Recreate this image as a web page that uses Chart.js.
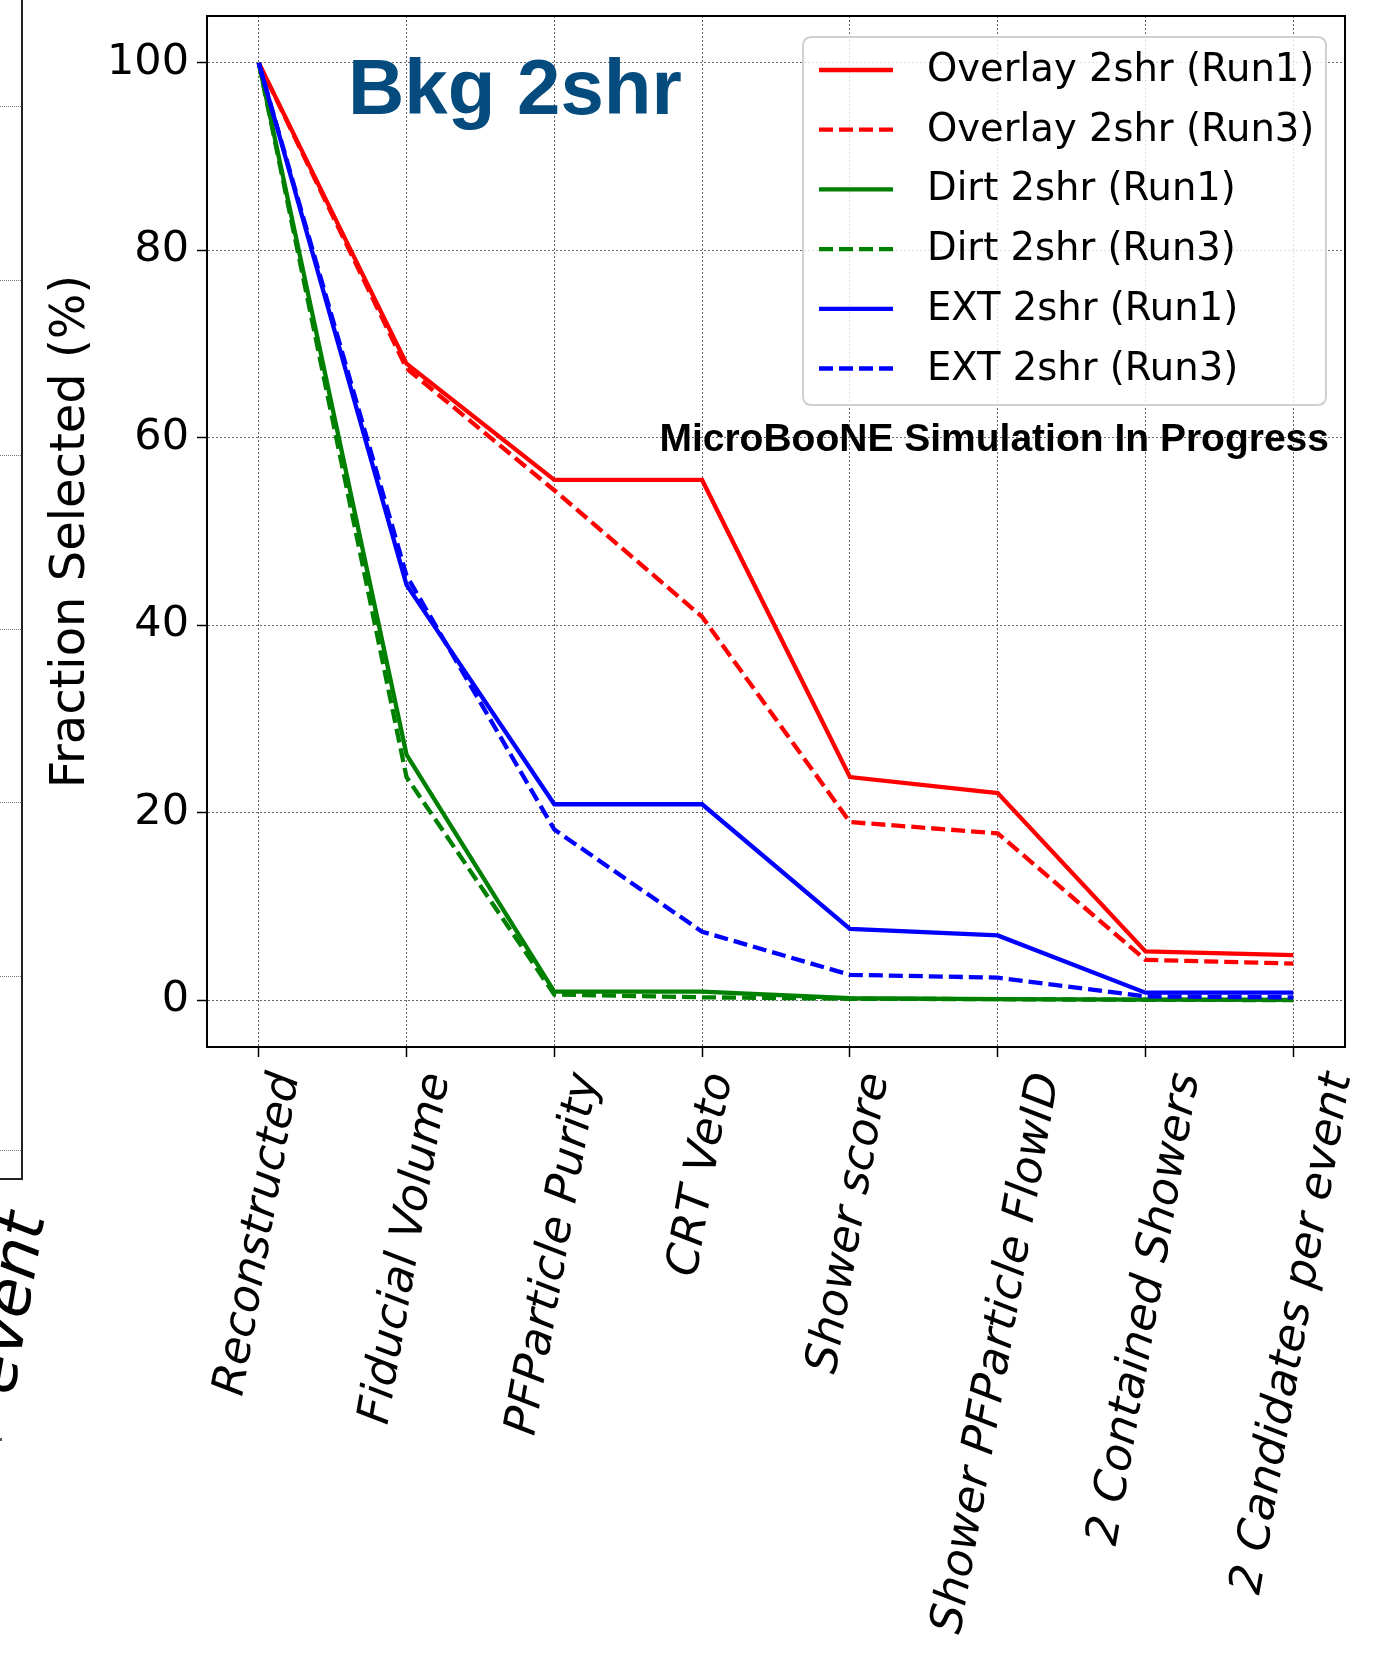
<!DOCTYPE html>
<html>
<head>
<meta charset="utf-8">
<script src="https://cdn.jsdelivr.net/npm/chart.js@4.4.1/dist/chart.umd.min.js"></script>
<style>
html, body { margin: 0; padding: 0; background: #ffffff; }
#wrap { position: relative; width: 1384px; height: 1658px; overflow: hidden; background: #fff; }
#chart { position: absolute; left: 0; top: 0; }
#prevFrame { position: absolute; left: -4px; top: -4px; width: 25px; height: 1182px;
  border-right: 2px solid #222; border-bottom: 2px solid #222; }
.pg { position: absolute; left: 0; width: 21px; height: 0; border-top: 1px dotted #777; }
#prevLabel { position: absolute; left: -40px; top: 1387px; transform-origin: 0 0; transform: rotate(-80deg);
  font-family: 'DejaVu Sans', sans-serif; font-style: italic; font-size: 64px; line-height: 64px; white-space: nowrap; color: #000; }
#prevDot { position: absolute; left: 0; top: 1438px; width: 2px; height: 3px; background: #555; }
</style>
</head>
<body>
<div id="wrap">
  <div id="prevFrame"></div>
  <div class="pg" style="top:106px"></div>
  <div class="pg" style="top:280px"></div>
  <div class="pg" style="top:455px"></div>
  <div class="pg" style="top:629px"></div>
  <div class="pg" style="top:802px"></div>
  <div class="pg" style="top:976px"></div>
  <div class="pg" style="top:1150px"></div>
  <div id="prevLabel">event</div>
  <div id="prevDot"></div>
  <canvas id="chart" width="1384" height="1658"></canvas>
</div>
<script>
// ---------------- data ----------------
const categories = ["Reconstructed", "Fiducial Volume", "PFParticle Purity", "CRT Veto",
  "Shower score", "Shower PFParticle FlowID", "2 Contained Showers", "2 Candidates per event"];

const overlayRun1 = [100, 67.9, 55.5, 55.5, 23.8, 22.1, 5.2, 4.8];
const overlayRun3 = [100, 67.4, 54.4, 40.9, 19.0, 17.8, 4.3, 3.9];
const dirtRun1    = [100, 26.2, 0.9, 0.9, 0.2, 0.1, 0.05, 0.02];
const dirtRun3    = [100, 23.8, 0.6, 0.3, 0.15, 0.1, 0.03, 0.01];
const extRun1     = [100, 44.3, 20.9, 20.9, 7.6, 6.9, 0.8, 0.8];
const extRun3     = [100, 45.3, 18.2, 7.3, 2.7, 2.4, 0.4, 0.3];

const seriesLabels = ["Overlay 2shr (Run1)", "Overlay 2shr (Run3)", "Dirt 2shr (Run1)",
  "Dirt 2shr (Run3)", "EXT 2shr (Run1)", "EXT 2shr (Run3)"];
const seriesValues = [overlayRun1, overlayRun3, dirtRun1, dirtRun3, extRun1, extRun3];

const yTickValues = [0, 20, 40, 60, 80, 100];
const yTitle = "Fraction Selected (%)";
const titleText = "Bkg 2shr";
const stampText = "MicroBooNE Simulation In Progress";

// ---------------- styles ----------------
const FONT = "'DejaVu Sans', sans-serif";
const seriesColors = ["#ff0000", "#ff0000", "#008000", "#008000", "#0000ff", "#0000ff"];
const DASH = [14, 6];
const seriesDash = [[], DASH, [], DASH, [], DASH];
const LW = 4.3;

const datasets = seriesValues.map((vals, k) => ({
  label: seriesLabels[k],
  data: vals.map((v, i) => ({ x: i, y: v })),
  borderColor: seriesColors[k],
  backgroundColor: seriesColors[k],
  borderDash: seriesDash[k],
  borderWidth: LW,
  pointRadius: 0,
  tension: 0,
  fill: false,
  order: seriesValues.length - k
}));

// shift rotated x labels so that their bounding box is centred on the tick (matplotlib style)
const labelCenterPlugin = {
  id: 'labelCenter',
  beforeDraw(chart) {
    const sc = chart.scales.x;
    const items = sc.getLabelItems(chart.chartArea);
    const ctx = chart.ctx;
    const rot = sc.labelRotation * Math.PI / 180;
    items.forEach(it => {
      if (it._shifted) return;
      ctx.save();
      ctx.font = it.font.string;
      const w = ctx.measureText(String(it.label)).width;
      ctx.restore();
      it.options.translation[0] += w * Math.cos(rot) / 2;
      it._shifted = true;
    });
  }
};

const framePlugin = {
  id: 'frameAndTexts',
  afterDraw(chart) {
    const ctx = chart.ctx;
    const a = chart.chartArea;
    ctx.save();
    ctx.setLineDash([]);
    ctx.strokeStyle = '#000';
    ctx.lineWidth = 2;
    ctx.strokeRect(a.left, a.top, a.right - a.left, a.bottom - a.top);

    // title inside axes
    ctx.fillStyle = '#054b7d';
    ctx.font = "bold 78px 'Liberation Sans', Arial, sans-serif";
    ctx.textAlign = 'left';
    ctx.textBaseline = 'alphabetic';
    ctx.fillText(titleText, a.left + 141, a.top + 98);

    // stamp
    ctx.fillStyle = '#000';
    ctx.font = "bold 39px 'Liberation Sans', Arial, sans-serif";
    ctx.textAlign = 'right';
    ctx.fillText(stampText, a.right - 16, a.top + 435);

    // legend
    const bx = a.right - 542, by = a.top + 21, bw = 523, bh = 368, r = 9;
    ctx.beginPath();
    ctx.moveTo(bx + r, by);
    ctx.lineTo(bx + bw - r, by);
    ctx.quadraticCurveTo(bx + bw, by, bx + bw, by + r);
    ctx.lineTo(bx + bw, by + bh - r);
    ctx.quadraticCurveTo(bx + bw, by + bh, bx + bw - r, by + bh);
    ctx.lineTo(bx + r, by + bh);
    ctx.quadraticCurveTo(bx, by + bh, bx, by + bh - r);
    ctx.lineTo(bx, by + r);
    ctx.quadraticCurveTo(bx, by, bx + r, by);
    ctx.closePath();
    ctx.fillStyle = 'rgba(255,255,255,0.8)';
    ctx.fill();
    ctx.strokeStyle = '#d0d0d0';
    ctx.lineWidth = 2;
    ctx.stroke();

    ctx.font = "38.5px " + FONT;
    ctx.textAlign = 'left';
    ctx.textBaseline = 'middle';
    chart.data.datasets.forEach((ds, k) => {
      const y = by + 33 + k * 59.7;
      ctx.beginPath();
      ctx.setLineDash(ds.borderDash || []);
      ctx.strokeStyle = ds.borderColor;
      ctx.lineWidth = LW;
      ctx.moveTo(bx + 16, y);
      ctx.lineTo(bx + 90, y);
      ctx.stroke();
      ctx.setLineDash([]);
      ctx.fillStyle = '#000';
      ctx.fillText(ds.label, bx + 124, y + 1);
    });
    ctx.restore();
  }
};

const gridOpts = {
  color: '#666',
  lineWidth: 1,
  tickLength: 10,
  tickColor: '#000',
  tickWidth: 1.5,
  tickBorderDash: [],
  drawTicks: true
};
const borderOpts = { display: true, color: '#000', width: 2, dash: [2, 2] };

function zeroPad(s) { s.paddingLeft = 0; s.paddingRight = 0; s.paddingTop = 0; s.paddingBottom = 0; }

new Chart(document.getElementById('chart'), {
  type: 'line',
  data: { datasets },
  options: {
    responsive: false,
    animation: false,
    devicePixelRatio: 1,
    layout: { padding: { left: 43, right: 39, top: 16, bottom: 0 } },
    plugins: { legend: { display: false }, tooltip: { enabled: false } },
    scales: {
      x: {
        type: 'linear',
        min: -0.35,
        max: categories.length - 1 + 0.35,
        afterBuildTicks: s => { s.ticks = categories.map((c, i) => ({ value: i })); },
        afterFit: s => { s.height = 611; zeroPad(s); },
        ticks: {
          autoSkip: false,
          maxRotation: 80,
          minRotation: 80,
          padding: 12,
          color: '#000',
          font: { family: FONT, size: 45, style: 'italic' },
          callback: v => categories[v] ?? ''
        },
        grid: gridOpts,
        border: borderOpts
      },
      y: {
        min: -5,
        max: 105,
        afterBuildTicks: s => { s.ticks = yTickValues.map(v => ({ value: v })); },
        afterFit: s => { s.width = 164; zeroPad(s); },
        ticks: {
          padding: 8,
          color: '#000',
          font: { family: FONT, size: 43 }
        },
        grid: gridOpts,
        border: borderOpts,
        title: {
          display: true,
          text: yTitle,
          color: '#000',
          padding: 0,
          font: { family: FONT, size: 48 }
        }
      }
    }
  },
  plugins: [labelCenterPlugin, framePlugin]
});
</script>
</body>
</html>
